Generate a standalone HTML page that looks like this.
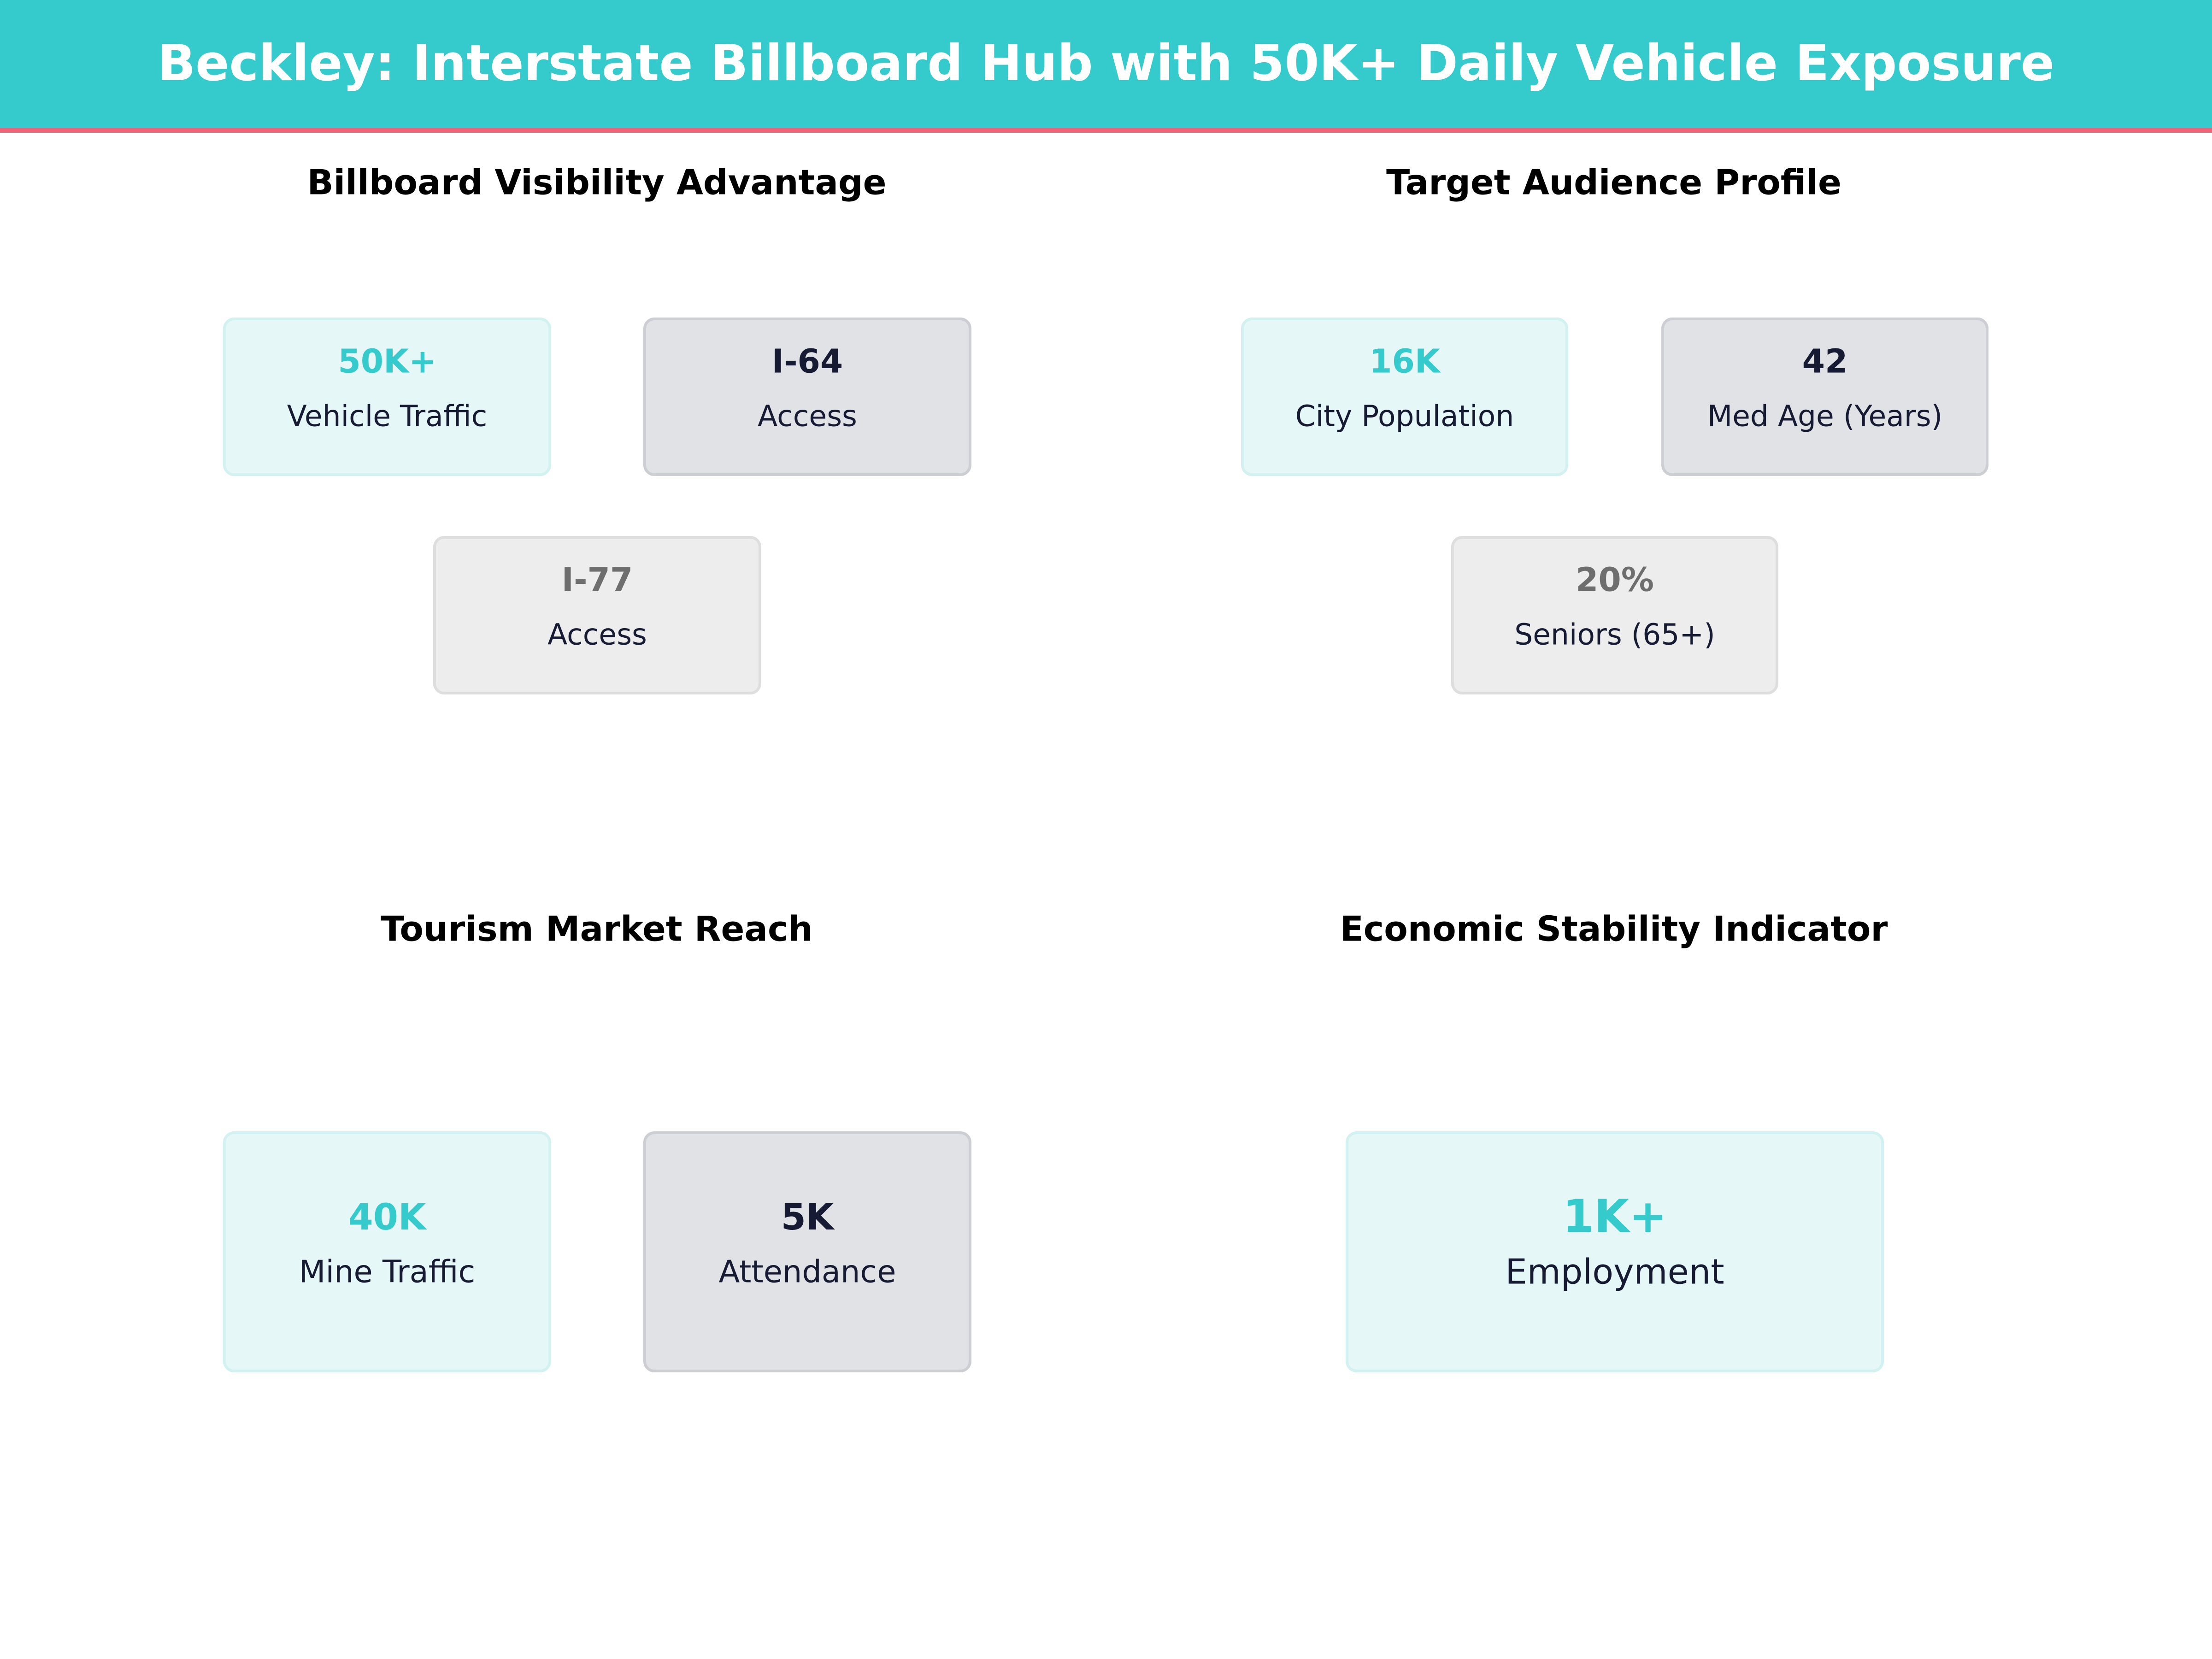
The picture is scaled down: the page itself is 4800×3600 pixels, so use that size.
<!DOCTYPE html>
<html><head><meta charset="utf-8">
<style>
body{margin:0;width:4800px;height:3600px;background:#fff;position:relative;overflow:hidden;font-family:"DejaVu Sans","Liberation Sans",sans-serif;}
.t{position:absolute;transform:translate(-50%,-50%);white-space:nowrap;line-height:1;}
.box{position:absolute;box-sizing:border-box;border-radius:24px;border-width:6px;border-style:solid;}
.teal{background:#E5F7F7;border-color:#D2F1F1;}
.dark{background:#E1E2E6;border-color:#CDCDD4;}
.gray{background:#EDEDED;border-color:#DEDEDE;}
.sub{font-weight:bold;font-size:75px;color:#000;}
.v{font-weight:bold;font-size:71px;}
.l{font-size:63px;color:#161B33;}
</style></head><body>
<div style="position:absolute;left:0;top:0;width:4800px;height:278px;background:#35CBCC;"></div>
<div style="position:absolute;left:0;top:278px;width:4800px;height:10px;background:#F0647A;"></div>
<div class="t" style="left:2400px;top:138px;font-size:108px;font-weight:bold;color:#fff;">Beckley: Interstate Billboard Hub with 50K+ Daily Vehicle Exposure</div>

<div class="t sub" style="left:1295px;top:396px;">Billboard Visibility Advantage</div>
<div class="t sub" style="left:3502px;top:396px;">Target Audience Profile</div>
<div class="t sub" style="left:1295px;top:2016px;">Tourism Market Reach</div>
<div class="t sub" style="left:3502px;top:2016px;">Economic Stability Indicator</div>

<div class="box teal" style="left:484px;top:689px;width:712px;height:344px;"></div>
<div class="t v" style="left:840px;top:784px;color:#35CBCC;">50K+</div>
<div class="t l" style="left:840px;top:903px;">Vehicle Traffic</div>

<div class="box dark" style="left:1396px;top:689px;width:712px;height:344px;"></div>
<div class="t v" style="left:1752px;top:784px;color:#161B33;">I-64</div>
<div class="t l" style="left:1752px;top:903px;">Access</div>

<div class="box gray" style="left:940px;top:1163px;width:712px;height:344px;"></div>
<div class="t v" style="left:1296px;top:1258px;color:#6E6E6E;">I-77</div>
<div class="t l" style="left:1296px;top:1377px;">Access</div>

<div class="box teal" style="left:2693px;top:689px;width:710px;height:344px;"></div>
<div class="t v" style="left:3048px;top:784px;color:#35CBCC;">16K</div>
<div class="t l" style="left:3048px;top:903px;">City Population</div>

<div class="box dark" style="left:3605px;top:689px;width:710px;height:344px;"></div>
<div class="t v" style="left:3960px;top:784px;color:#161B33;">42</div>
<div class="t l" style="left:3960px;top:903px;">Med Age (Years)</div>

<div class="box gray" style="left:3149px;top:1163px;width:710px;height:344px;"></div>
<div class="t v" style="left:3504px;top:1258px;color:#6E6E6E;">20%</div>
<div class="t l" style="left:3504px;top:1377px;">Seniors (65+)</div>

<div class="box teal" style="left:484px;top:2455px;width:712px;height:523px;"></div>
<div class="t v" style="left:840px;top:2642px;color:#35CBCC;font-size:78px;">40K</div>
<div class="t l" style="left:840px;top:2760px;font-size:67px;">Mine Traffic</div>

<div class="box dark" style="left:1396px;top:2455px;width:712px;height:523px;"></div>
<div class="t v" style="left:1752px;top:2642px;color:#161B33;font-size:78px;">5K</div>
<div class="t l" style="left:1752px;top:2760px;font-size:67px;">Attendance</div>

<div class="box teal" style="left:2920px;top:2455px;width:1168px;height:523px;"></div>
<div class="t v" style="left:3504px;top:2640px;color:#35CBCC;font-size:98px;">1K+</div>
<div class="t l" style="left:3504px;top:2760px;font-size:75px;">Employment</div>
</body></html>
